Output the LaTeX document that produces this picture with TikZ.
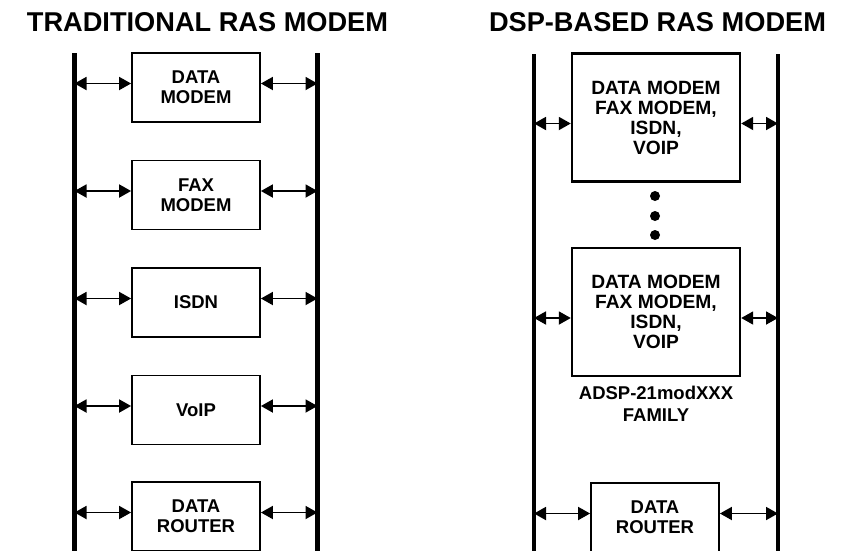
\documentclass[tikz,border=0pt]{standalone}
\usepackage{fontspec}
\setsansfont{Liberation Sans}
\usetikzlibrary{arrows.meta, positioning}
\tikzset{
    unit/.style={
        rectangle,
        draw=black,
        line width=1.8pt,
        inner sep=0pt,
        minimum width=128pt,
        minimum height=69pt,
        align=center,
        font=\sffamily\bfseries\fontsize{18.5}{20}\selectfont
    },
    dspunit/.style={
        unit,
        line width=2.4pt,
        minimum width=168pt,
        minimum height=128pt,
        font=\sffamily\bfseries\fontsize{19.2}{20}\selectfont
    },
    bus/.style={line width=4.5pt},
    link/.style={
        line width=1.8pt,
        {Triangle[length=12pt,width=13pt]}-{Triangle[length=12pt,width=13pt]}
    },
    heading/.style={font=\sffamily\bfseries\fontsize{27.2}{30}\selectfont}
}

\begin{document}
\begin{tikzpicture}[x=1pt, y=-1pt]
\useasboundingbox (0,0) rectangle (843,550);
% titles
\node[heading] (tradtitle) at (207.5,22) {TRADITIONAL RAS MODEM};
\node[heading] (dsptitle) at (657.5,22) {DSP-BASED RAS MODEM};
% buses
\coordinate (lbusA) at (74.5,53);
\coordinate (lbusB) at (317.5,53);
\coordinate (rbusA) at (534,54);
\coordinate (rbusB) at (778,54);
\draw[bus] (lbusA) -- (74.5,552);
\draw[bus] (lbusB) -- (317.5,552);
\draw[bus] (rbusA) -- (534,552);
\draw[bus] (rbusB) -- (778,552);
% traditional modem cards
\node[unit] (tData) at (196,87.5) {DATA\\MODEM};
\node[unit] (tFax) at (196,195) {FAX\\MODEM};
\node[unit] (tIsdn) at (196,302.5) {ISDN};
\node[unit] (tVoip) at (196,410) {VoIP};
\node[unit] (tRouter) at (196,516.5) {DATA\\ROUTER};
\foreach \card in {tData, tFax, tIsdn, tVoip, tRouter} {
    \draw[link] ([yshift=4pt]\card.west -| lbusA) -- ([yshift=4pt]\card.west);
    \draw[link] ([yshift=4pt]\card.east) -- ([yshift=4pt]\card.east -| lbusB);
}
% dsp based cards
\node[dspunit] (dTop) at (656,117.5) {DATA MODEM\\FAX MODEM,\\ISDN,\\VOIP};
\node[dspunit] (dBot) at (656,312) {DATA MODEM\\FAX MODEM,\\ISDN,\\VOIP};
\fill (655,196) circle (5pt);
\fill (655,216) circle (5pt);
\fill (655,235) circle (5pt);
\node[font=\sffamily\bfseries\fontsize{18.5}{22}\selectfont, align=center, below=5pt of dBot] (family) {ADSP-21modXXX\\FAMILY};
\node[unit] (dRouter) at (655,517.5) {DATA\\ROUTER};
\foreach \card/\dy in {dTop/-6pt, dBot/-6pt, dRouter/4pt} {
    \draw[link] ([yshift=\dy]\card.west -| rbusA) -- ([yshift=\dy]\card.west);
    \draw[link] ([yshift=\dy]\card.east) -- ([yshift=\dy]\card.east -| rbusB);
}
\end{tikzpicture}
\end{document}
